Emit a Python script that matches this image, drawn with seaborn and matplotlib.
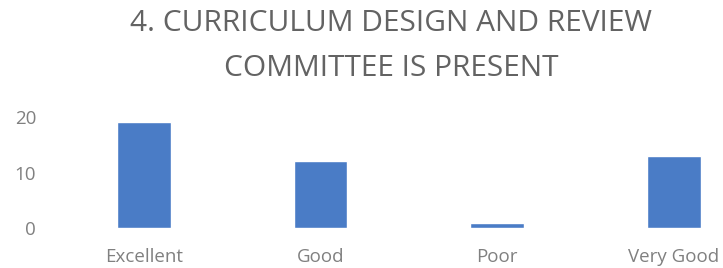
import numpy as np
import pandas as pd
import seaborn as sns
import matplotlib.pyplot as plt

ratings = ["Excellent", "Good", "Poor", "Very Good"]
counts = [19, 12, 1, 13]
yticks = [0, 10, 20]

df = pd.DataFrame({"rating": ratings, "count": counts})

sns.set_style("white")
plt.rcParams['font.family'] = ['Open Sans', 'DejaVu Sans']

fig = plt.figure(figsize=(7.23, 2.68), dpi=100)
ax = fig.add_axes([0.077, 0.148, 0.977, 0.52])

sns.barplot(data=df, x="rating", y="count", color="#4a7cc6",
            saturation=1, width=0.305, ax=ax)

ax.set_ylim(0, 25)
ax.set_yticks(yticks)
ax.set_xlabel("")
ax.set_ylabel("")
ax.tick_params(axis='both', length=0, colors="#808080", labelsize=13.5)
ax.tick_params(axis='y', pad=14)
ax.tick_params(axis='x', pad=14)
sns.despine(ax=ax, left=True, bottom=True)

fig.text(0.541, 0.828, "4. CURRICULUM DESIGN AND REVIEW\nCOMMITTEE IS PRESENT",
         ha='center', va='center', fontsize=21.5, color="#636363",
         linespacing=1.7)

fig.savefig("out.png", dpi=100)
